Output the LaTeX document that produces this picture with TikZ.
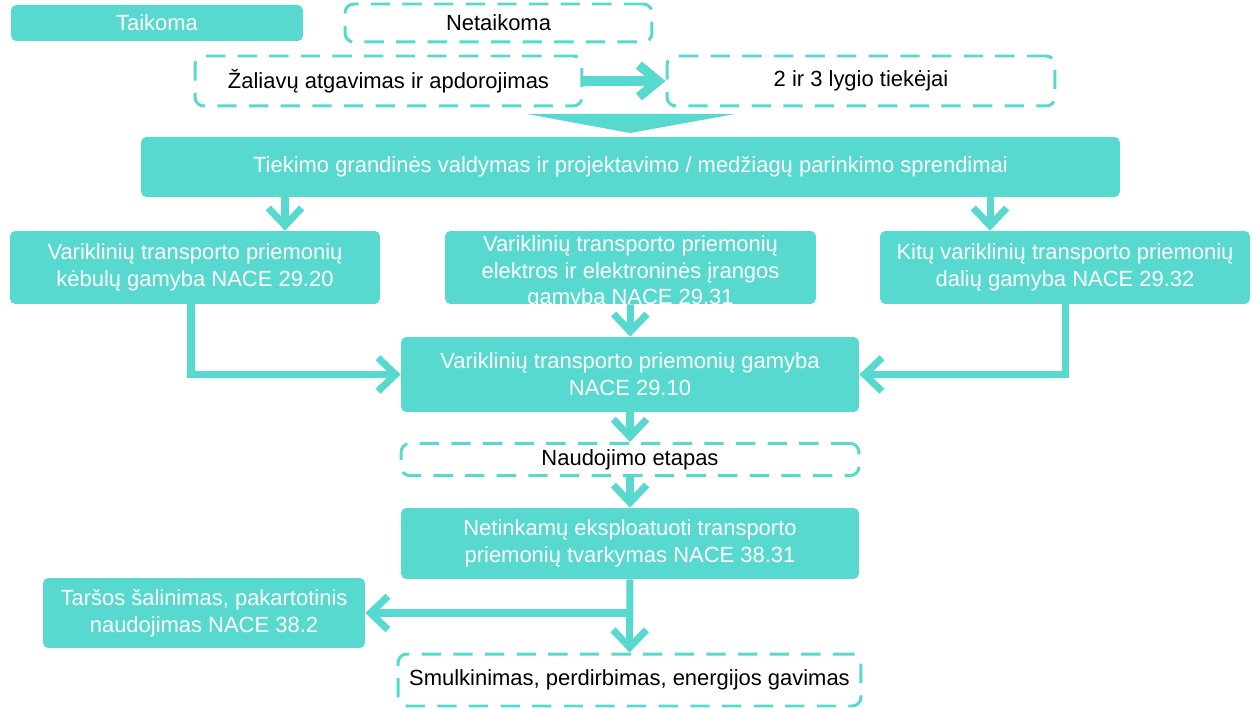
\documentclass[tikz,border=0pt]{standalone}
\usepackage{fontspec}
\setmainfont{Liberation Sans}
\usetikzlibrary{arrows.meta, positioning, calc}
\definecolor{turk}{RGB}{88,217,208}

\begin{document}
\begin{tikzpicture}[x=0.02cm, y=-0.02cm,
        fbox/.style={rectangle, rounded corners=3pt, fill=turk, text=white, align=center, font=\fontsize{12.5}{15.3}\selectfont},
        dbox/.style={rectangle, rounded corners=5pt, draw=turk, line width=1.7pt, dash pattern=on 11pt off 7pt, align=center, font=\fontsize{12.5}{15.3}\selectfont},
        arrow/.style={draw=turk, line width=4pt, -{Straight Barb[length=10pt, width=19pt, line width=4pt]}},
        bigarrow/.style={draw=turk, line width=5.3pt, -{Straight Barb[length=11pt, width=18pt, line width=5.3pt]}}
    ]
        \useasboundingbox (0,0) rectangle (1260,709);

        \node[fbox, minimum width=5.84cm, minimum height=0.72cm] (taik) at (157,23) {Taikoma};
        \node[dbox, minimum width=6.14cm, minimum height=0.76cm] (netaik) at (498.5,23) {Netaikoma};
        \node[dbox, minimum width=7.74cm, minimum height=1.0cm] (zal) at (388.5,81) {Žaliavų atgavimas ir apdorojimas};
        \node[dbox, minimum width=7.76cm, minimum height=1.0cm] (tiek) at (861,81) {2 ir 3 lygio tiekėjai};
        \node[fbox, minimum width=19.58cm, minimum height=1.2cm] (valdym) at (630.5,167) {Tiekimo grandinės valdymas ir projektavimo / medžiagų parinkimo sprendimai};

        \node[fbox, minimum width=7.4cm, minimum height=1.46cm] (kebulu) at (195,267.5) {Variklinių transporto priemonių\\kėbulų gamyba NACE 29.20};
        \node[fbox, minimum width=7.42cm, minimum height=1.46cm,
              label={[anchor=center, yshift=-2.8pt, align=center, text=white, font=\fontsize{12.5}{15.3}\selectfont]center:Variklinių transporto priemonių\\elektros ir elektroninės įrangos\\gamyba NACE 29.31}] (elektros) at (630.5,267.5) {};
        \node[fbox, minimum width=7.4cm, minimum height=1.46cm] (kitu) at (1065,267.5) {Kitų variklinių transporto priemonių\\dalių gamyba NACE 29.32};

        \node[fbox, minimum width=9.16cm, minimum height=1.5cm] (gamyba) at (630,374.5) {Variklinių transporto priemonių gamyba\\NACE 29.10};
        \node[dbox, minimum width=9.16cm, minimum height=0.62cm] (naud) at (630,459.5) {Naudojimo etapas};
        \node[fbox, minimum width=9.16cm, minimum height=1.42cm] (tvark) at (630,543.5) {Netinkamų eksploatuoti transporto\\priemonių tvarkymas NACE 38.31};
        \node[fbox, minimum width=6.44cm, minimum height=1.4cm] (tarsos) at (204,613) {Taršos šalinimas, pakartotinis\\naudojimas NACE 38.2};
        \node[dbox, minimum width=9.26cm, minimum height=1.04cm] (smulk) at (629.5,680) {Smulkinimas, perdirbimas, energijos gavimas};

        % big funnel arrow under the raw material box
        \fill[turk] (527,114) -- (735,114) -- (630,133) -- cycle;

        \draw[bigarrow] (zal) -- (tiek);
        \draw[arrow] (valdym.south -| 285,0) -- (kebulu.north -| 285,0);
        \draw[arrow] (valdym.south -| 990,0) -- (kitu.north -| 990,0);
        \draw[arrow] (elektros) -- (gamyba);
        \draw[arrow] (kebulu.south -| 191,0) |- (gamyba.west);
        \draw[arrow] (kitu.south) |- (gamyba.east);
        \draw[arrow] (gamyba) -- (naud);
        \draw[arrow] (naud) -- (tvark);
        \draw[arrow] (tvark) -- (smulk);
        \draw[arrow] (tarsos.east -| tvark.south) -- (tarsos.east);
    \end{tikzpicture}
\end{document}
